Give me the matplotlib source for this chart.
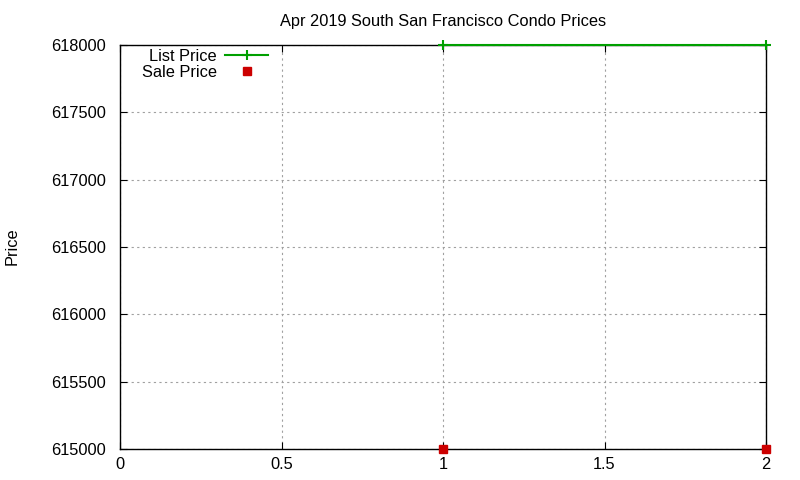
import matplotlib
matplotlib.use('Agg')
import matplotlib.pyplot as plt

# ============= Data =============
months = [1, 2]
list_price = [618000, 618000]
sale_price = [615000, 615000]
yticks = [615000, 615500, 616000, 616500, 617000, 617500, 618000]
xticks = [0, 0.5, 1, 1.5, 2]

fs = 11.8
plt.rcParams['font.family'] = ['Liberation Sans', 'DejaVu Sans']
plt.rcParams['font.size'] = fs

fig = plt.figure(figsize=(8, 4.8), dpi=100)
ax = fig.add_axes([0.15, 0.0646, 0.8075, 0.8417])

ax.plot(months, list_price, color='#00a000', lw=1.5, marker='+', ms=7,
        mew=1.5, label='List Price', clip_on=False, zorder=3)
ax.plot(months, sale_price, color='#cc0000', ls='none', marker='s', ms=6,
        label='Sale Price', clip_on=False, zorder=3)

ax.set_xlim(0, 2)
ax.set_ylim(615000, 618000)
ax.set_xticks(xticks)
ax.set_xticklabels(['0', '0.5', '1', '1.5', '2'])
ax.set_yticks(yticks)
ax.set_yticklabels([str(v) for v in yticks])
ax.tick_params(direction='in', top=True, right=True, length=5, width=0.8,
               labelsize=fs, colors='black')
ax.tick_params(axis='x', pad=6)
ax.tick_params(axis='y', pad=10)
ax.grid(True, color='#a0a0a0', ls=(0, (2, 3)), lw=0.8)
for s in ax.spines.values():
    s.set_linewidth(1.0)

ax.set_title('Apr 2019 South San Francisco Condo Prices', fontsize=fs, pad=14)
fig.text(12 / 800, 1 - 246 / 480, 'Price', rotation=90, ha='center',
         va='center', fontsize=fs)

ax.legend(loc='upper left', frameon=False, markerfirst=False, handlelength=2.6,
          bbox_to_anchor=(142 / 800, 1 - 49 / 480),
          bbox_transform=fig.transFigure, borderaxespad=0, borderpad=0,
          labelspacing=0.05, handletextpad=0.5, fontsize=fs)

fig.savefig('out.png', dpi=100)
